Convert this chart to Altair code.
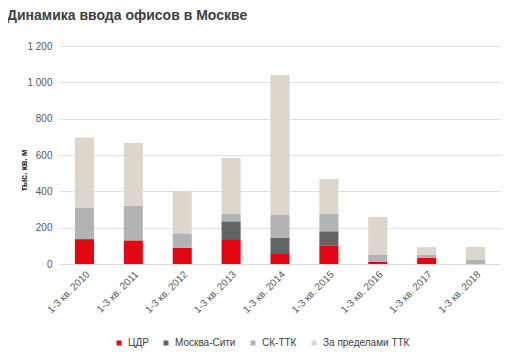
import altair as alt
import pandas as pd

periods = ["1-3 кв. 2010", "1-3 кв. 2011", "1-3 кв. 2012", "1-3 кв. 2013", "1-3 кв. 2014",
           "1-3 кв. 2015", "1-3 кв. 2016", "1-3 кв. 2017", "1-3 кв. 2018"]
series = ["ЦДР", "Москва-Сити", "СК-ТТК", "За пределами ТТК"]
colors = ["#e30613", "#636466", "#b1b3b5", "#dcd6cc"]
cdr = [137, 130, 90, 137, 55, 103, 13, 35, 0]
city = [0, 0, 0, 98, 88, 77, 0, 0, 0]
sk_ttk = [173, 191, 79, 42, 130, 97, 40, 17, 24]
outside = [387, 345, 233, 306, 767, 191, 206, 41, 70]

rows = []
for i, p in enumerate(periods):
    for k, (s, vals) in enumerate(zip(series, [cdr, city, sk_ttk, outside])):
        rows.append({"period": p, "series": s, "value": vals[i], "ord": k})
df = pd.DataFrame(rows)

font = "Liberation Sans"

chart = alt.Chart(df).mark_bar().encode(
    x=alt.X("period:N", sort=periods, title=None,
            scale=alt.Scale(paddingInner=0.61, paddingOuter=0.305),
            axis=alt.Axis(labelAngle=-45, labelFontSize=10, labelColor="#595959",
                          labelFont=font, ticks=False, domain=True, domainColor="#d9d9d9",
                          labelPadding=5)),
    y=alt.Y("sum(value):Q", title="тыс. кв. м",
            scale=alt.Scale(domain=[0, 1200]),
            axis=alt.Axis(values=[0, 200, 400, 600, 800, 1000, 1200], format=",d",
                          labelExpr="replace(datum.label, ',', ' ')",
                          labelFontSize=10, labelColor="#595959", labelFont=font,
                          ticks=False, domain=False, gridColor="#e0e0e0", labelPadding=8,
                          titleFontSize=8.5, titleFontWeight="bold", titleColor="#222222",
                          titleFont=font, titleX=-37, titleY=124, titleAngle=270,
                          titleAlign="center", titleBaseline="middle")),
    color=alt.Color("series:N", sort=series,
                    scale=alt.Scale(domain=series, range=colors),
                    legend=alt.Legend(title=None, orient="none", direction="horizontal",
                                      legendX=54, legendY=292, symbolType="square",
                                      symbolSize=25, symbolStrokeWidth=0, labelFontSize=10,
                                      labelColor="#404040", labelFont=font, columnPadding=12,
                                      labelOffset=4, padding=0)),
    order=alt.Order("ord:Q", sort="ascending"),
).properties(
    width=440, height=218,
    title=alt.TitleParams("Динамика ввода офисов в Москве", anchor="start", frame="group",
                          dx=-53, fontSize=14, fontWeight="bold", color="#404040",
                          font=font, offset=18),
    autosize=alt.AutoSizeParams(type="none"),
    padding={"left": 52, "top": 38, "right": 8, "bottom": 88},
).configure_view(stroke=None)

chart.save("out.html", embed_options={"renderer": "svg", "actions": False})
